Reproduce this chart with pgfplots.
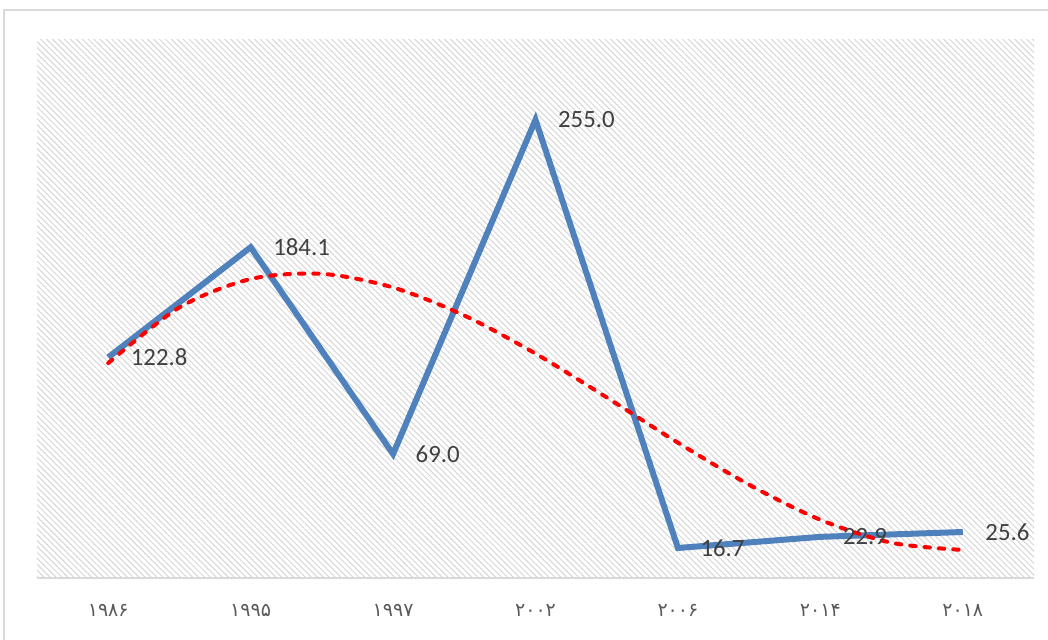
\documentclass[border=0pt]{standalone}
\usepackage{fontspec}
\setmainfont{Carlito}
\newfontfamily\fafont[Script=Arabic]{DejaVu Sans}
\usepackage{pgfplots}
\pgfplotsset{compat=1.18}
\usetikzlibrary{patterns.meta}

\definecolor{lineblue}{RGB}{79,129,189}
\definecolor{framegray}{RGB}{217,217,217}
\definecolor{hatchgray}{RGB}{214,214,214}
\definecolor{labelgray}{RGB}{64,64,64}
\definecolor{tickgray}{RGB}{89,89,89}

% series values
\pgfplotstableread{
x y
0 122.8
1 184.1
2 69.0
3 255.0
4 16.7
5 22.9
6 25.6
}\datatable

% trend line
\pgfplotstableread{
x y
0   119.6
0.5 150.6
1   166.4
1.5 169.3
2   161.7
2.5 146.1
3   124.9
3.5 100.5
4   75.3
4.5 51.9
5   32.4
5.5 19.6
6   15.6
}\trendtable

\begin{document}
\begin{tikzpicture}
\useasboundingbox (0,0) rectangle (524bp,320bp);
\clip (0,0) rectangle (524bp,320bp);
\draw[framegray, line width=1bp] (1.75bp,-20bp) rectangle (560bp,314.75bp);
\begin{axis}[
  at={(18.5bp,31bp)}, anchor=south west,
  scale only axis, width=498.5bp, height=269.5bp,
  xmin=-0.5, xmax=6.5, ymin=0, ymax=300,
  axis y line=none, axis x line=bottom,
  x axis line style={-, draw=framegray, line width=1bp},
  axis background/.style={pattern={Lines[angle=-45, distance=2.1bp, line width=0.5bp]}, pattern color=hatchgray},
  ytick=\empty,
  xtick=data,
  xticklabels={۱۹۸۶,۱۹۹۵,۱۹۹۷,۲۰۰۲,۲۰۰۶,۲۰۱۴,۲۰۱۸},
  major tick length=0pt,
  x tick label style={font=\fafont\fontsize{9.5bp}{11bp}\selectfont, text=tickgray, yshift=-9.5bp},
  clip=false,
]
\addplot[lineblue, line width=3bp,
  nodes near coords={\pgfmathprintnumber[fixed,fixed zerofill,precision=1,assume math mode=true]{\pgfplotspointmeta}},
  every node near coord/.append style={anchor=west, xshift=6.5bp, text=labelgray, font=\fontsize{12.4bp}{14bp}\selectfont}]
  table[x=x, y=y]{\datatable};
\addplot[red, line width=2bp, line cap=round, dash pattern=on 2.7bp off 4.5bp, smooth]
  table[x=x, y=y]{\trendtable};
\end{axis}
\end{tikzpicture}
\end{document}
